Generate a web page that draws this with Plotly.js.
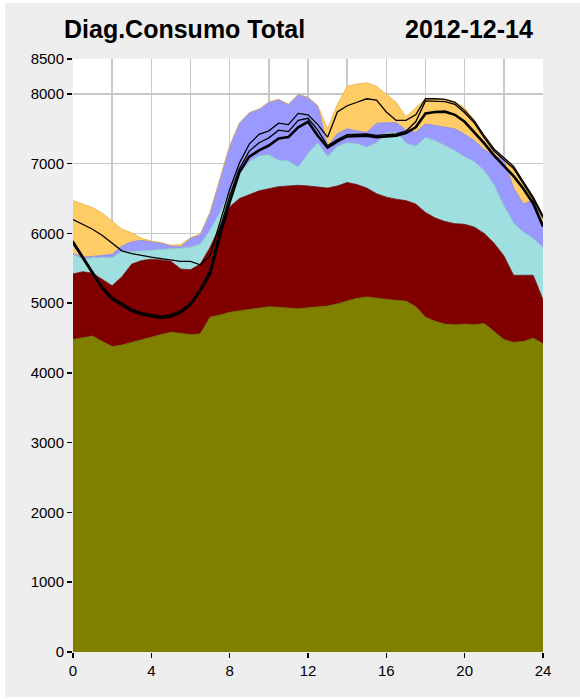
<!DOCTYPE html>
<html><head><meta charset="utf-8">
<script src="https://cdn.plot.ly/plotly-3.0.1.min.js"></script>
<style>html,body{margin:0;padding:0;background:#fff;} #chart{position:absolute;left:5px;top:3px;width:575px;height:694px;}</style>
</head><body><div id="chart"></div><script>
// hours of the day
const hours = [0,0.5,1,1.5,2,2.5,3,3.5,4,4.5,5,5.5,6,6.5,7,7.5,8,8.5,9,9.5,10,10.5,11,11.5,12,12.5,13,13.5,14,14.5,15,15.5,16,16.5,17,17.5,18,18.5,19,19.5,20,20.5,21,21.5,22,22.5,23,23.5,24];

// cumulative tops of the stacked bands (MW)
const bandOlive  = [4480,4500,4530,4450,4380,4400,4440,4470,4510,4550,4585,4570,4550,4560,4800,4830,4870,4890,4910,4930,4950,4940,4925,4920,4935,4945,4960,4990,5030,5070,5090,5070,5055,5040,5030,4950,4800,4740,4700,4690,4700,4690,4710,4600,4480,4440,4450,4500,4420];
const bandRed    = [5420,5450,5430,5340,5250,5380,5560,5610,5630,5620,5600,5490,5480,5560,5800,6100,6380,6500,6560,6610,6640,6670,6680,6690,6680,6660,6650,6680,6730,6700,6650,6570,6520,6490,6470,6420,6300,6220,6170,6140,6130,6090,6000,5860,5680,5400,5400,5400,5050];
const bandCyan   = [5700,5640,5650,5660,5650,5750,5740,5750,5760,5770,5780,5790,5800,5850,6050,6300,6600,6850,7030,7110,7130,7050,7040,6950,7150,7300,7100,7250,7300,7290,7240,7300,7440,7450,7300,7250,7380,7330,7260,7190,7100,7030,6900,6700,6400,6150,6020,5930,5800];
const bandPurple = [5710,5660,5670,5680,5700,5820,5880,5900,5880,5860,5820,5810,5930,5980,6300,6780,7250,7580,7730,7780,7880,7920,7850,7990,7950,7830,7250,7430,7500,7470,7450,7580,7590,7590,7480,7450,7570,7550,7520,7500,7420,7330,7200,7120,7060,6650,6420,6480,6150];
const bandOrange = [6470,6420,6370,6290,6180,6060,6010,5930,5890,5870,5830,5840,5940,5990,6300,6780,7250,7580,7730,7780,7880,7920,7850,7990,7950,7830,7500,7850,8110,8140,8160,8110,8000,7880,7670,7800,7930,7930,7920,7890,7800,7620,7400,7200,7080,6960,6740,6520,6250];

// black demand lines
const lineReal  = [5870,5650,5420,5210,5060,4970,4890,4840,4820,4790,4810,4870,4980,5180,5420,5960,6450,6880,7100,7190,7260,7360,7380,7520,7600,7400,7230,7320,7390,7400,7400,7380,7390,7400,7440,7520,7720,7740,7745,7700,7600,7450,7290,7120,6970,6820,6640,6430,6100];
const lineForecast = [6200,6130,6060,5970,5860,5750,5710,5680,5660,5640,5620,5600,5600,5550,5680,6160,6630,7010,7280,7420,7470,7580,7560,7720,7700,7560,7380,7740,7830,7880,7930,7910,7740,7620,7620,7700,7930,7930,7920,7880,7760,7610,7400,7210,7080,6960,6740,6520,6250];
const lineProg  = [5895,5675,5445,5235,5085,4995,4915,4865,4845,4815,4835,4895,5005,5205,5470,6060,6540,6930,7180,7300,7370,7480,7460,7620,7650,7480,7255,7345,7415,7425,7425,7405,7415,7425,7465,7600,7900,7900,7890,7850,7730,7580,7370,7180,7050,6930,6710,6490,6220];

const yTicks = [0,1000,2000,3000,4000,5000,6000,7000,8000,8500];
const titleLeft = 'Diag.Consumo Total';
const titleRight = '2012-12-14';

const bands = [
  {y: bandOlive,  fill:'#808000', edge:'#6a6a00', mode:'tozeroy'},
  {y: bandRed,    fill:'#800000', edge:'#6a0000', mode:'tonexty'},
  {y: bandCyan,   fill:'#a0dfdf', edge:'#88c4c4', mode:'tonexty'},
  {y: bandPurple, fill:'#9999ff', edge:'#8585e6', mode:'tonexty'},
  {y: bandOrange, fill:'#ffcc66', edge:'#e6b24d', mode:'tonexty'}
];
const traces = bands.map(b => ({
  x: hours, y: b.y, type:'scatter', mode:'lines', fill: b.mode,
  fillcolor: b.fill, line:{color: b.edge, width:0.8}, hoverinfo:'skip'
}));
traces.push({x: hours, y: lineProg, type:'scatter', mode:'lines', line:{color:'#000', width:1.3}});
traces.push({x: hours, y: lineForecast, type:'scatter', mode:'lines', line:{color:'#000', width:1.3}});
traces.push({x: hours, y: lineReal, type:'scatter', mode:'lines', line:{color:'#000', width:2.6}});

const tickFont = {family:'Liberation Sans, Arial, sans-serif', size:15, color:'#000'};
const layout = {
  width:575, height:694,
  paper_bgcolor:'#eeeeee', plot_bgcolor:'#ffffff',
  margin:{l:68, r:37, t:56, b:45},
  showlegend:false,
  xaxis:{range:[0,24], tickmode:'linear', tick0:0, dtick:4, ticks:'outside', ticklen:5, tickwidth:1.5, tickcolor:'#000',
         showgrid:true, gridcolor:'#c8c8c8', gridwidth:1.5, zeroline:false, showline:false, tickfont:tickFont,
         minor:{tick0:0, dtick:2, showgrid:true, gridcolor:'#c8c8c8', gridwidth:1.5, ticks:''}},
  yaxis:{range:[0,8500], tickmode:'array', tickvals:yTicks, ticktext:yTicks.map(String), ticks:'outside', ticklen:5, tickwidth:1.5, tickcolor:'#000',
         showgrid:true, gridcolor:'#c8c8c8', gridwidth:1.5, zeroline:false, showline:false, tickfont:tickFont},
  annotations:[
    {text:titleLeft, xref:'paper', yref:'paper', x:-0.0234, y:1.0506, xanchor:'left', yanchor:'middle', showarrow:false,
     font:{family:'Liberation Sans, Arial, sans-serif', size:25, color:'#000', weight:'bold'}},
    {text:titleRight, xref:'paper', yref:'paper', x:0.983, y:1.0506, xanchor:'right', yanchor:'middle', showarrow:false,
     font:{family:'Liberation Sans, Arial, sans-serif', size:25, color:'#000', weight:'bold'}}
  ]
};
Plotly.newPlot('chart', traces, layout, {displayModeBar:false, staticPlot:true});
</script></body></html>
